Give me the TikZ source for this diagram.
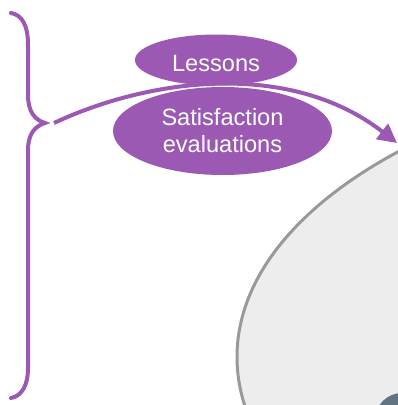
\documentclass[tikz,border=0pt]{standalone}
\usepackage{fontspec}
\setmainfont{Liberation Sans}
\usetikzlibrary{arrows.meta,shapes.geometric}
\definecolor{lspurple}{RGB}{155,89,179}
\definecolor{lsgray}{RGB}{153,153,153}
\definecolor{lsfill}{RGB}{237,237,237}
\definecolor{lsslate}{RGB}{100,115,130}

\begin{document}
\begin{tikzpicture}[x=1pt,y=-1pt,
    blob/.style={ellipse,fill=lspurple,text=white,inner sep=0pt,align=center,
      font=\fontsize{23.6}{27}\selectfont},
    flow/.style={draw=lspurple,line width=4pt,-{Triangle[length=19pt,width=19pt]}}]
  \path[use as bounding box,clip] (0,0) rectangle (398,405);
  % the process seen from outside
  \node[ellipse,draw=lsgray,fill=lsfill,line width=3pt,minimum width=1190pt,minimum height=600pt] (process) at (832,357) {};
  \node[circle,fill=lsslate,minimum size=54pt,inner sep=0pt] (core) at (402,420) {};
  % feedback arrow from the brace
  \coordinate (bracetip) at (54,123);
  \coordinate (target) at (397,143);
  \draw[flow] (bracetip) .. controls (150,78) and (290,60) .. (target);
  \node[blob,minimum width=162pt,minimum height=51pt] (lessons) at (216,60) {\raisebox{-3pt}[\height][\depth]{Lessons}};
  \node[blob,minimum width=219pt,minimum height=88pt] (satisf) at (222.5,131) {Satisfaction\\evaluations};
  % brace
  \draw[lspurple,line width=4pt,line cap=round] (11,13) .. controls (22,15) and (28,25) .. (28,45) -- (28,95)
    .. controls (28,112) and (35,120) .. (45,123) .. controls (35,126) and (28,134) .. (28,150) -- (28,368)
    .. controls (28,385) and (22,396) .. (11,398);
\end{tikzpicture}
\end{document}
